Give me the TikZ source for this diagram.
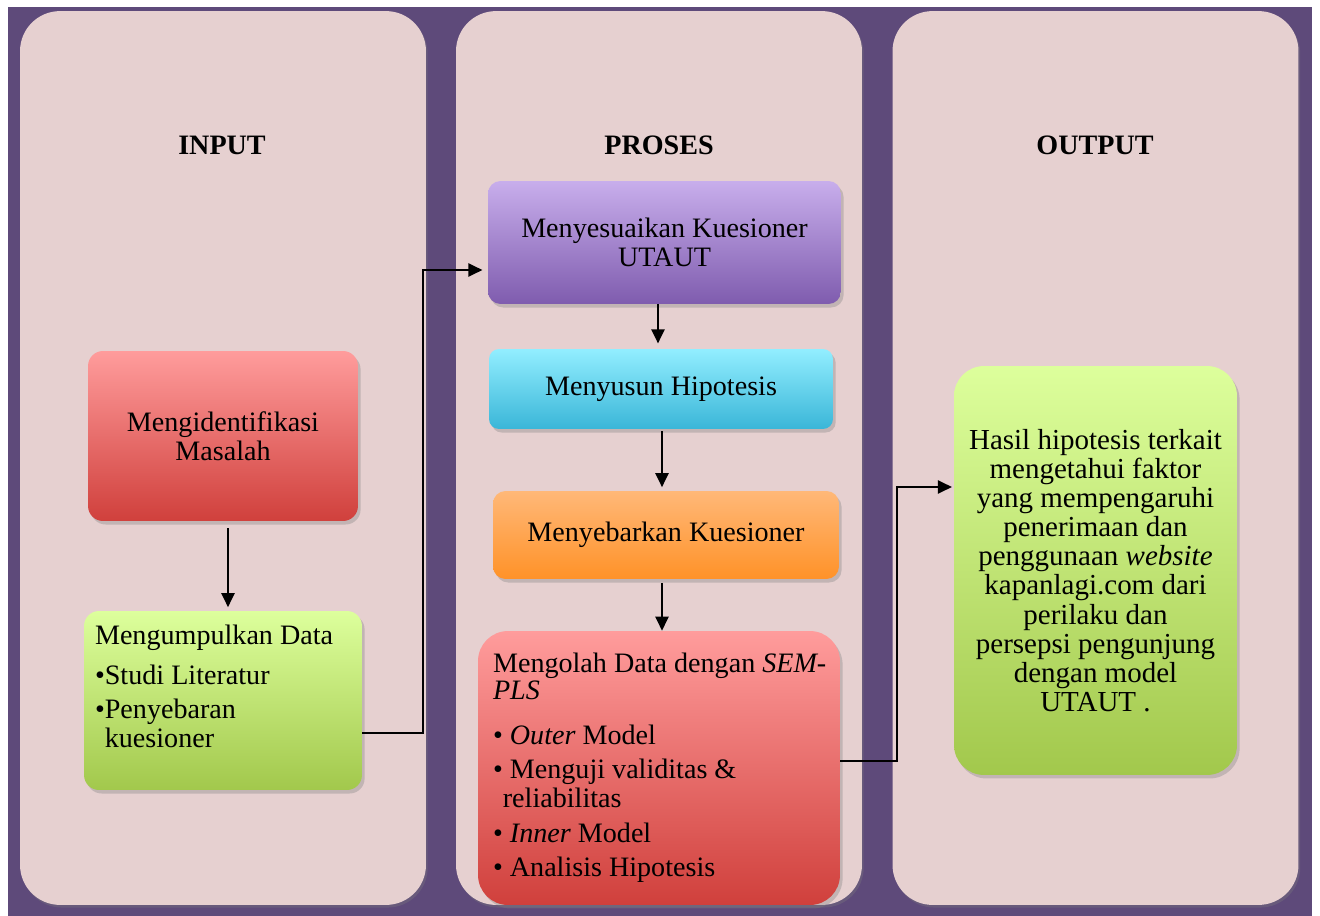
\documentclass[tikz,border=0pt]{standalone}
\usepackage{fontspec}
\setmainfont{Liberation Serif}
\usetikzlibrary{arrows.meta,shadows}

\definecolor{bgpurple}{HTML}{5E4A7A}
\definecolor{panelpink}{HTML}{E6D0D0}
\definecolor{redtop}{HTML}{FF9C9C}
\definecolor{redbot}{HTML}{D0403C}
\definecolor{greentop}{HTML}{DDFF9C}
\definecolor{greenbot}{HTML}{A2C84C}
\definecolor{violettop}{HTML}{C8AEEC}
\definecolor{violetbot}{HTML}{7F5CAE}
\definecolor{cyantop}{HTML}{92EEFF}
\definecolor{cyanbot}{HTML}{3AB6D8}
\definecolor{orangetop}{HTML}{FFB878}
\definecolor{orangebot}{HTML}{FF9228}

\tikzset{
	panel/.style={fill=panelpink, rounded corners=0.8cm, minimum width=8.12cm, minimum height=17.88cm,
		drop shadow={opacity=.3, shadow xshift=1pt, shadow yshift=-1.5pt}},
	head/.style={font=\fontsize{16}{16.5}\selectfont\bfseries},
	box/.style={rounded corners=0.3cm, align=center, font=\fontsize{16}{16.5}\selectfont,
		drop shadow={opacity=.35, shadow xshift=1.5pt, shadow yshift=-2pt}},
	boxtext/.style={anchor=north west, inner sep=0pt, align=flush left, font=\fontsize{16}{16.5}\selectfont},
	conn/.style={line width=1.1pt, -{Triangle[length=8pt,width=7.5pt]}},
}

\begin{document}
\begin{tikzpicture}[x=0.02cm,y=-0.02cm]
	\useasboundingbox (0,0) rectangle (1320,916);
	\fill[bgpurple] (8,7) rectangle (1312,916);
	% the three columns
	\node[panel] (colin) at (223,458) {};
	\node[panel] (colpro) at (659,458) {};
	\node[panel] (colout) at (1095.5,458) {};
	\node[head] (hin) at (222,145) {INPUT};
	\node[head] (hpro) at (659,145) {PROSES};
	\node[head] (hout) at (1095,145) {OUTPUT};
	% input
	\node[box, top color=redtop, bottom color=redbot, minimum width=5.4cm, minimum height=3.4cm] (masalah) at (223,436) {Mengidentifikasi\\Masalah};
	\node[box, top color=greentop, bottom color=greenbot, minimum width=5.56cm, minimum height=3.58cm] (kumpul) at (223,700.5) {};
	\node[boxtext] (kumpultxt) at ([xshift=0.22cm,yshift=-0.28cm]kumpul.north west) {Mengumpulkan Data\\[6pt]\textbullet Studi Literatur\\[3pt]\textbullet Penyebaran\\\phantom{\textbullet}kuesioner};
	% proses
	\node[box, top color=violettop, bottom color=violetbot, minimum width=7.06cm, minimum height=2.46cm, rounded corners=0.25cm] (sesuai) at (664.5,242.5) {Menyesuaikan Kuesioner\\UTAUT};
	\node[box, top color=cyantop, bottom color=cyanbot, minimum width=6.88cm, minimum height=1.6cm, rounded corners=0.2cm] (susun) at (661,389) {Menyusun Hipotesis};
	\node[box, top color=orangetop, bottom color=orangebot, minimum width=6.92cm, minimum height=1.76cm, rounded corners=0.25cm] (sebar) at (666,535) {Menyebarkan Kuesioner};
	\node[box, top color=redtop, bottom color=redbot, minimum width=7.24cm, minimum height=5.48cm, rounded corners=0.6cm] (olah) at (659,768) {};
	\node[boxtext] (olahtxt) at ([xshift=0.3cm,yshift=-0.44cm]olah.north west) {Mengolah Data dengan \textit{SEM-}\\[-1pt]\textit{PLS}\\[9pt]\textbullet{} \textit{Outer} Model\\[3pt]\textbullet{} Menguji validitas \&\\\phantom{\textbullet}reliabilitas\\[3pt]\textbullet{} \textit{Inner} Model\\[3pt]\textbullet{} Analisis Hipotesis};
	% output
	\node[box, top color=greentop, bottom color=greenbot, minimum width=5.66cm, minimum height=8.18cm, rounded corners=0.6cm, font=\fontsize{16.5}{16.6}\selectfont] (hasil) at (1095.5,570.5) {Hasil hipotesis terkait\\mengetahui faktor\\yang mempengaruhi\\penerimaan dan\\penggunaan \textit{website}\\kapanlagi.com dari\\perilaku dan\\persepsi pengunjung\\dengan model\\UTAUT .};
	% arrows
	\draw[conn, shorten <=4pt, shorten >=2pt] (masalah.south -| 228,0) -- (kumpul.north -| 228,0);
	\draw[conn, shorten >=3pt] (sesuai.south -| 658,0) -- (susun.north -| 658,0);
	\draw[conn, shorten <=1pt, shorten >=2pt] (susun.south -| 662,0) -- (sebar.north -| 662,0);
	\draw[conn, shorten <=2pt] (sebar.south -| 662,0) -- (olah.north -| 662,0);
	\draw[conn, shorten >=3pt] (kumpul.east |- 0,733) -| (423,270) -- (sesuai.west |- 0,270);
	\draw[conn, shorten >=1pt] (olah.east |- 0,761) -| (897,487) -- (hasil.west |- 0,487);
\end{tikzpicture}
\end{document}
